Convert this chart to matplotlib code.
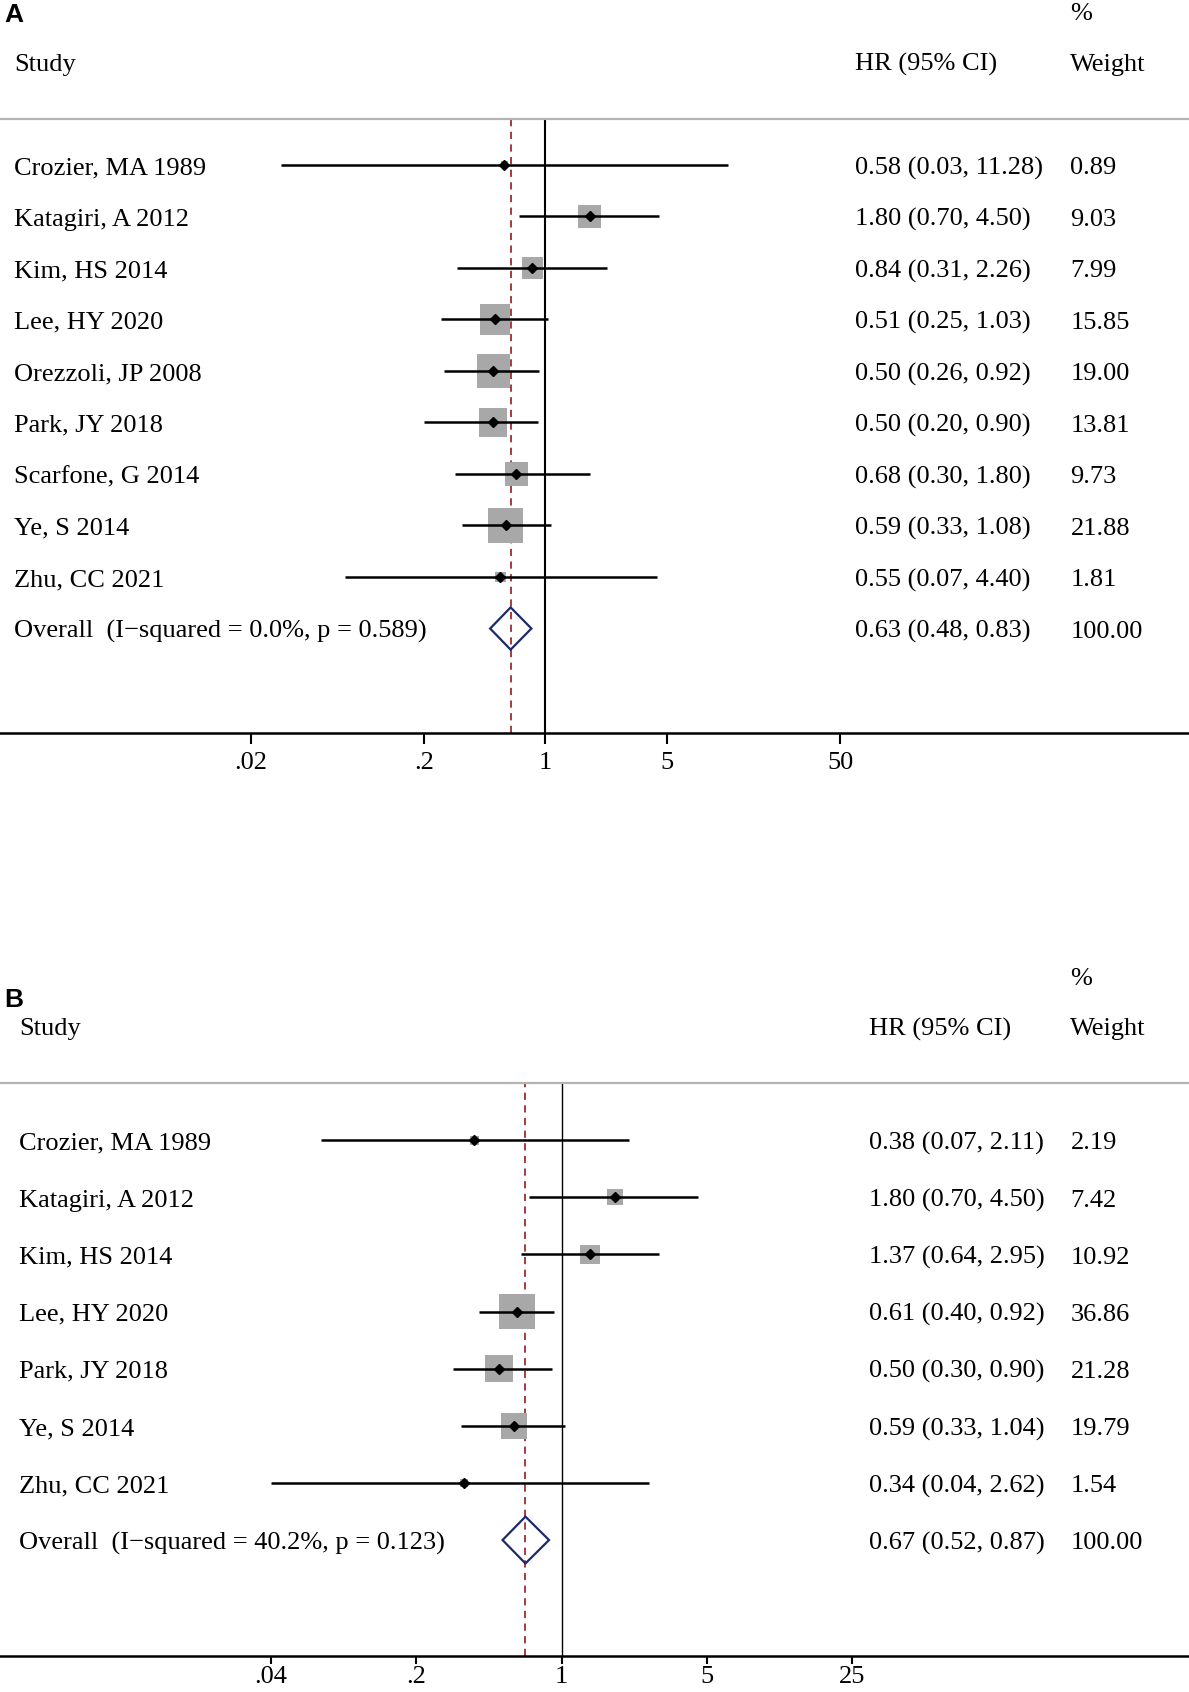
import numpy as np
import matplotlib.pyplot as plt
from matplotlib.patches import Polygon

plt.rcParams['font.family'] = ['Liberation Serif', 'DejaVu Serif']

# panel A data
studies_a = ["Crozier, MA 1989", "Katagiri, A 2012", "Kim, HS 2014", "Lee, HY 2020",
             "Orezzoli, JP 2008", "Park, JY 2018", "Scarfone, G 2014", "Ye, S 2014", "Zhu, CC 2021"]
hr_a = [0.58, 1.80, 0.84, 0.51, 0.50, 0.50, 0.68, 0.59, 0.55]
lo_a = [0.03, 0.70, 0.31, 0.25, 0.26, 0.20, 0.30, 0.33, 0.07]
hi_a = [11.28, 4.50, 2.26, 1.03, 0.92, 0.90, 1.80, 1.08, 4.40]
w_a = [0.89, 9.03, 7.99, 15.85, 19.00, 13.81, 9.73, 21.88, 1.81]
overall_a = (0.63, 0.48, 0.83)
overall_lab_a = "Overall  (I\u2212squared = 0.0%, p = 0.589)"
ticks_a = [0.02, 0.2, 1, 5, 50]
ticklabels_a = [".02", ".2", "1", "5", "50"]

# panel B data
studies_b = ["Crozier, MA 1989", "Katagiri, A 2012", "Kim, HS 2014", "Lee, HY 2020",
             "Park, JY 2018", "Ye, S 2014", "Zhu, CC 2021"]
hr_b = [0.38, 1.80, 1.37, 0.61, 0.50, 0.59, 0.34]
lo_b = [0.07, 0.70, 0.64, 0.40, 0.30, 0.33, 0.04]
hi_b = [2.11, 4.50, 2.95, 0.92, 0.90, 1.04, 2.62]
w_b = [2.19, 7.42, 10.92, 36.86, 21.28, 19.79, 1.54]
overall_b = (0.67, 0.52, 0.87)
overall_lab_b = "Overall  (I\u2212squared = 40.2%, p = 0.123)"
ticks_b = [0.04, 0.2, 1, 5, 25]
ticklabels_b = [".04", ".2", "1", "5", "25"]

W, H = 1103.0, 1570.0  # layout measured on the reference, scaled
FS = 19


def forest(fig, studies, hr, lo, hi, w, overall, overall_lab, ticks, ticklabels,
           top_px, axis_px, row0_px, step_px, x_one, px_dec, lab_x, hr_x,
           box_k, vline_lw, letter, letter_y, tick_len, tick_pad):
    n = len(studies)
    ax = fig.add_axes([0, 1 - axis_px / H, 1, (axis_px - top_px) / H])
    lo_log = -x_one / px_dec
    hi_log = (W - x_one) / px_dec
    ax.set_xscale('log')
    ax.set_xlim(10 ** lo_log, 10 ** hi_log)
    ytop = (top_px - row0_px) / step_px
    ybot = (axis_px - row0_px) / step_px
    ax.set_ylim(ybot, ytop)

    for s in ['left', 'right']:
        ax.spines[s].set_visible(False)
    ax.spines['top'].set_color('#b4b4b4')
    ax.spines['top'].set_linewidth(1.6)
    ax.spines['bottom'].set_linewidth(1.8)
    ax.set_yticks([])
    ax.xaxis.set_minor_locator(plt.NullLocator())
    ax.set_xticks(ticks)
    ax.set_xticklabels(ticklabels, fontsize=FS)
    ax.tick_params(axis='x', length=tick_len, width=1.5, pad=tick_pad, direction='out')

    ax.axvline(1, color='black', lw=vline_lw, zorder=1)
    ax.axvline(overall[0], color='#9b2d30', lw=1.3, ls=(0, (4, 3)), zorder=1)

    rows = np.arange(n)
    ax.scatter(hr, rows, s=np.array(w) * box_k, marker='s', color='#a8a8a8',
               edgecolors='none', zorder=2)
    ax.hlines(rows, lo, hi, color='black', lw=1.8, zorder=3)
    ax.plot(hr, rows, ls='none', marker='D', ms=5.5, color='black', zorder=4)

    est, olo, ohi = overall
    h = 0.41
    ax.add_patch(Polygon([(olo, n), (est, n - h), (ohi, n), (est, n + h)],
                         closed=True, fill=False, edgecolor='#1b2a6b', lw=1.6, zorder=4))

    tr = ax.get_yaxis_transform()
    fx = lambda px: px / W
    dy = 3.0 / step_px  # text sits a little lower than the row centre
    for i, name in enumerate(studies):
        ax.text(fx(lab_x), i + dy, name, transform=tr, fontsize=FS, va='center', ha='left')
        ax.text(fx(hr_x), i + dy, f"{hr[i]:.2f} ({lo[i]:.2f}, {hi[i]:.2f})", transform=tr,
                fontsize=FS, va='center', ha='left')
        ax.text(fx(993), i + dy, f"{w[i]:.2f}", transform=tr, fontsize=FS, va='center', ha='left')
    ax.text(fx(lab_x), n + dy, overall_lab, transform=tr, fontsize=FS, va='center', ha='left')
    ax.text(fx(hr_x), n + dy, f"{est:.2f} ({olo:.2f}, {ohi:.2f})", transform=tr,
            fontsize=FS, va='center', ha='left')
    ax.text(fx(993), n + dy, "100.00", transform=tr, fontsize=FS, va='center', ha='left')

    # column headers
    yh = (top_px - 53 - row0_px) / step_px + dy
    yp = (top_px - 100 - row0_px) / step_px + dy
    ax.text(fx(lab_x), yh, "Study", transform=tr, fontsize=FS, va='center', ha='left', clip_on=False)
    ax.text(fx(hr_x), yh, "HR (95% CI)", transform=tr, fontsize=FS, va='center', ha='left', clip_on=False)
    ax.text(fx(993), yh, "Weight", transform=tr, fontsize=FS, va='center', ha='left', clip_on=False)
    ax.text(fx(993), yp, "%", transform=tr, fontsize=FS, va='center', ha='left', clip_on=False)

    fig.text(fx(4), 1 - letter_y / H, letter, fontsize=19, fontweight='bold',
             family=['Liberation Sans', 'DejaVu Sans'], va='center', ha='left')
    return ax


fig = plt.figure(figsize=(11.89, 16.92), dpi=100)

forest(fig, studies_a, hr_a, lo_a, hi_a, w_a, overall_a, overall_lab_a, ticks_a, ticklabels_a,
       top_px=110, axis_px=680, row0_px=153, step_px=47.8, x_one=506, px_dec=161,
       lab_x=13, hr_x=793, box_k=30, vline_lw=1.5, letter="A", letter_y=14,
       tick_len=8, tick_pad=6)

forest(fig, studies_b, hr_b, lo_b, hi_b, w_b, overall_b, overall_lab_b, ticks_b, ticklabels_b,
       top_px=1005, axis_px=1537, row0_px=1058, step_px=53, x_one=521, px_dec=193,
       lab_x=18, hr_x=806, box_k=18, vline_lw=1.0, letter="B", letter_y=928,
       tick_len=6, tick_pad=1)

fig.savefig("out.png", dpi=100, facecolor='white')
